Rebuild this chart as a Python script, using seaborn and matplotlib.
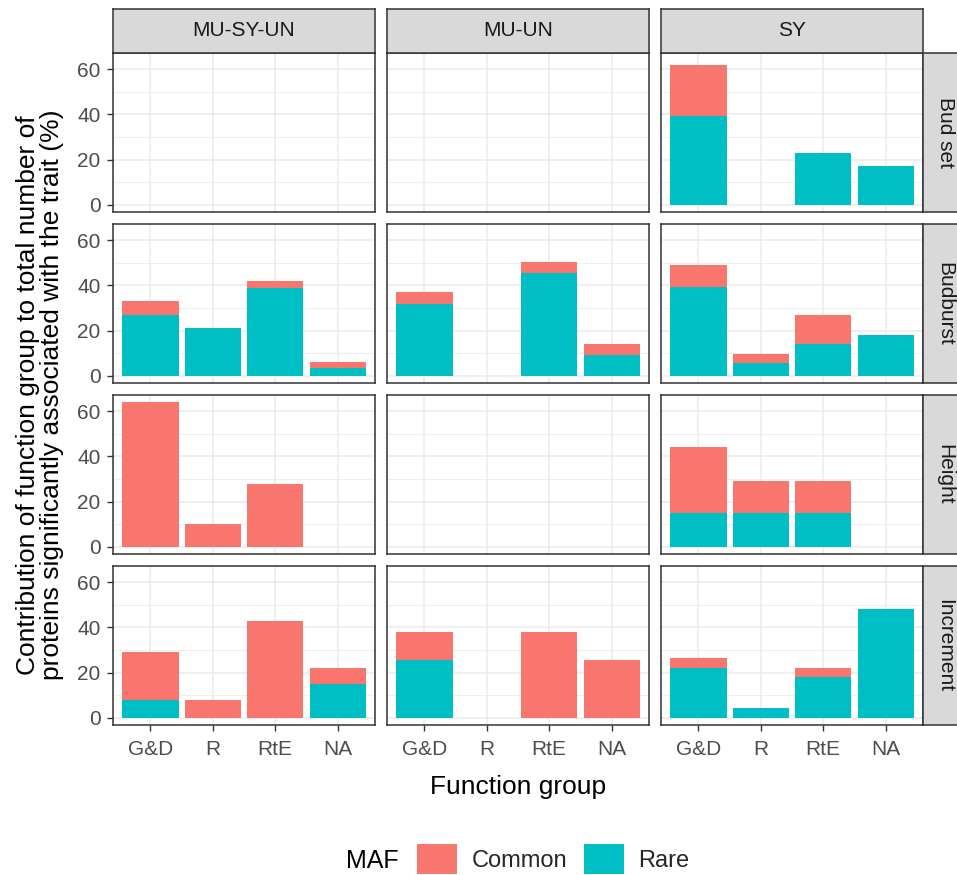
import numpy as np
import pandas as pd
import matplotlib
matplotlib.use("Agg")
import matplotlib.pyplot as plt
from matplotlib.patches import Patch
from matplotlib.ticker import MultipleLocator
import seaborn as sns

# ---- data ----
traits = ["Bud set", "Budburst", "Height", "Increment"]
sets = ["MU-SY-UN", "MU-UN", "SY"]
groups = ["G&D", "R", "RtE", "NA"]
maf_levels = ["Common", "Rare"]

# values per (trait, set): [G&D, R, RtE, NA]
rare = {
    ("Bud set", "MU-SY-UN"): [0, 0, 0, 0],
    ("Bud set", "MU-UN"): [0, 0, 0, 0],
    ("Bud set", "SY"): [39.5, 0, 23, 17],
    ("Budburst", "MU-SY-UN"): [27, 21, 39, 3.5],
    ("Budburst", "MU-UN"): [32, 0, 45.5, 9],
    ("Budburst", "SY"): [39.5, 5.5, 14, 18],
    ("Height", "MU-SY-UN"): [0, 0, 0, 0],
    ("Height", "MU-UN"): [0, 0, 0, 0],
    ("Height", "SY"): [15, 15, 15, 0],
    ("Increment", "MU-SY-UN"): [8, 0, 0, 15],
    ("Increment", "MU-UN"): [25.5, 0, 0, 0],
    ("Increment", "SY"): [22, 4.5, 18, 48],
}
common = {
    ("Bud set", "MU-SY-UN"): [0, 0, 0, 0],
    ("Bud set", "MU-UN"): [0, 0, 0, 0],
    ("Bud set", "SY"): [22.5, 0, 0, 0],
    ("Budburst", "MU-SY-UN"): [6, 0, 3, 2.5],
    ("Budburst", "MU-UN"): [5, 0, 5, 5],
    ("Budburst", "SY"): [9.5, 4, 13, 0],
    ("Height", "MU-SY-UN"): [64, 10, 28, 0],
    ("Height", "MU-UN"): [0, 0, 0, 0],
    ("Height", "SY"): [29, 14, 14, 0],
    ("Increment", "MU-SY-UN"): [21, 8, 43, 7],
    ("Increment", "MU-UN"): [12.5, 0, 38, 25.5],
    ("Increment", "SY"): [4.5, 0, 4, 0],
}
y_ticks = [0, 20, 40, 60]

rows = []
for t in traits:
    for s in sets:
        for i, g in enumerate(groups):
            rows.append(dict(trait=t, set=s, group=g,
                             rare=rare[(t, s)][i], common=common[(t, s)][i]))
df = pd.DataFrame(rows)
df["total"] = df["rare"] + df["common"]

# ---- style ----
sns.set_theme(style="white")
plt.rcParams["font.family"] = ["Liberation Sans", "DejaVu Sans"]

col_common = "#F8766D"
col_rare = "#00BFC4"
grid_col = "#EBEBEB"
border_col = "#333333"
tick_txt = "#4D4D4D"

W, H = 957, 875
fig = plt.figure(figsize=(W / 100, H / 100), dpi=100)

def fx(px):
    return px / W

def fy(py):
    return 1 - py / H

col_x = [113, 387, 661]
pw = 262
row_top = [53, 224, 395, 566]
ph = 159
strip_h = 44

ymin, ymax = -3.2, 67.2

for r, t in enumerate(traits):
    for c, s in enumerate(sets):
        ax = fig.add_axes([fx(col_x[c]), fy(row_top[r] + ph), pw / W, ph / H])
        sub = df[(df.trait == t) & (df.set == s)]
        sns.barplot(data=sub, x="group", y="total", order=groups, color=col_common,
                    saturation=1, width=0.9, errorbar=None, linewidth=0, ax=ax)
        sns.barplot(data=sub, x="group", y="rare", order=groups, color=col_rare,
                    saturation=1, width=0.9, errorbar=None, linewidth=0, ax=ax)
        ax.set_xlim(-0.6, 3.6)
        ax.set_ylim(ymin, ymax)
        ax.set_yticks(y_ticks)
        ax.yaxis.set_minor_locator(MultipleLocator(10))
        ax.set_axisbelow(True)
        ax.grid(True, which="major", color=grid_col, linewidth=1.1)
        ax.grid(True, which="minor", axis="y", color=grid_col, linewidth=0.55)
        ax.set_xlabel("")
        ax.set_ylabel("")
        for sp in ax.spines.values():
            sp.set_visible(True)
            sp.set_color(border_col)
            sp.set_linewidth(1.1)
        ax.tick_params(axis="both", which="major", length=4, width=1.0,
                       color=border_col, labelcolor=tick_txt, labelsize=15,
                       bottom=True, left=True)
        ax.tick_params(axis="x", which="major", pad=7)
        ax.tick_params(axis="y", which="major", pad=5)
        ax.tick_params(axis="y", which="minor", length=0)
        if c != 0:
            ax.tick_params(axis="y", labelleft=False, left=False)
        if r != len(traits) - 1:
            ax.tick_params(axis="x", labelbottom=False, bottom=False)

        # top strips
        if r == 0:
            sax = fig.add_axes([fx(col_x[c]), fy(row_top[0]), pw / W, strip_h / H])
            sax.set_facecolor("#D9D9D9")
            sax.set_xticks([]); sax.set_yticks([])
            for sp in sax.spines.values():
                sp.set_color(border_col); sp.set_linewidth(1.1)
            sax.text(0.5, 0.5, s, ha="center", va="center", fontsize=15,
                     color="#1A1A1A", transform=sax.transAxes)
    # right strips
    rax = fig.add_axes([fx(col_x[2] + pw), fy(row_top[r] + ph), strip_h / W, ph / H])
    rax.set_facecolor("#D9D9D9")
    rax.set_xticks([]); rax.set_yticks([])
    for sp in rax.spines.values():
        sp.set_color(border_col); sp.set_linewidth(1.1)
    rax.text(0.5, 0.5, t, ha="center", va="center", rotation=-90, fontsize=15,
             color="#1A1A1A", transform=rax.transAxes)

# axis titles
fig.text(fx(col_x[0] + (col_x[2] + pw - col_x[0]) / 2), fy(787), "Function group",
         ha="center", va="center", fontsize=19, color="black")
fig.text(fx(40), fy((row_top[0] + row_top[3] + ph) / 2 + 6),
         "Contribution of function group to total number of\n"
         "proteins significantly associated with the trait (%)",
         ha="center", va="center", rotation=90, fontsize=19, color="black",
         linespacing=0.95)

# legend
handles = [Patch(facecolor=col_common, edgecolor="none"),
           Patch(facecolor=col_rare, edgecolor="none")]
fig.legend(handles, maf_levels, loc="center", bbox_to_anchor=(fx(553), fy(859)),
           ncol=2, frameon=False, fontsize=17, handlelength=1.7, handleheight=1.6,
           handletextpad=0.6, columnspacing=0.7)
fig.text(fx(372), fy(861), "MAF", ha="center", va="center", fontsize=18, color="black")

fig.savefig("out.png", dpi=100, facecolor="white")
